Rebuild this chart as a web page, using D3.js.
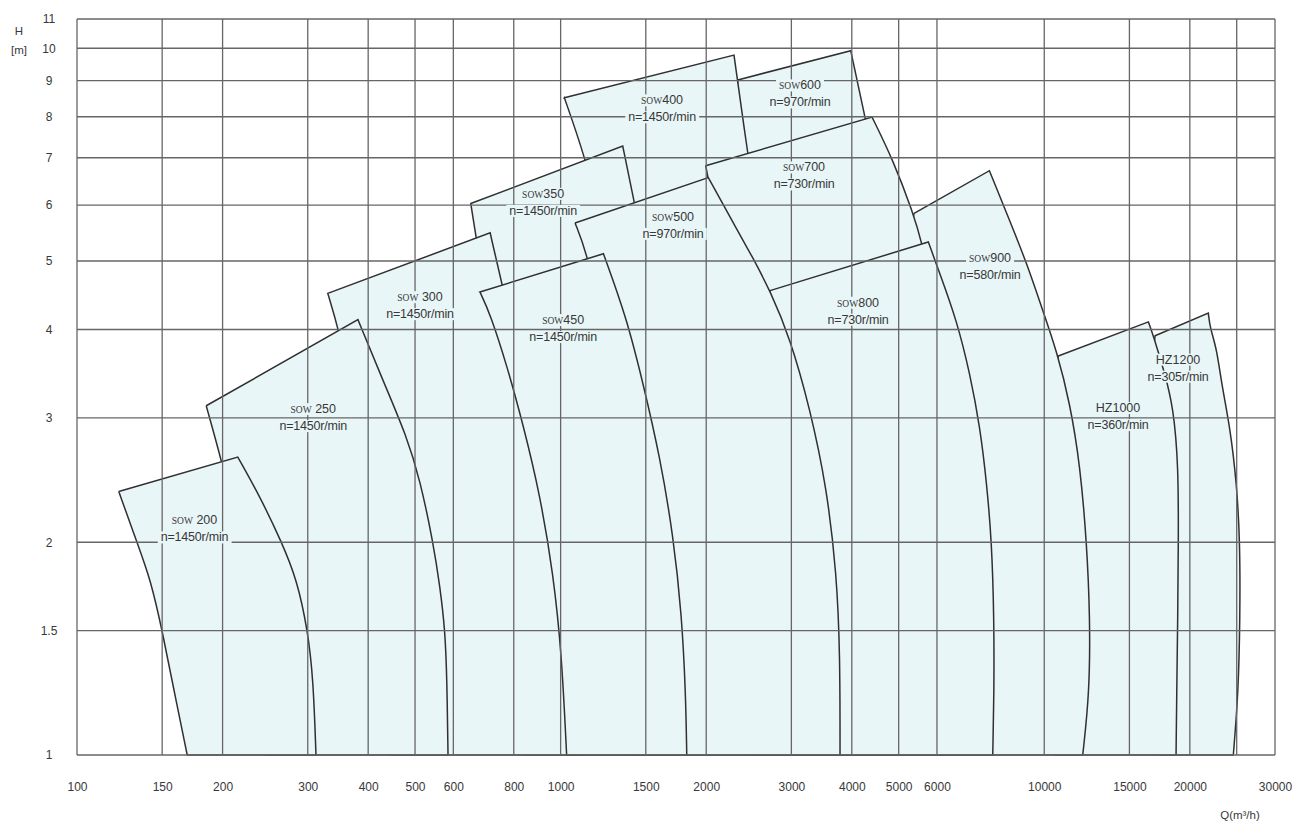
<!DOCTYPE html>
<html><head><meta charset="utf-8">
<script src="https://cdn.jsdelivr.net/npm/d3@7"></script>
<style>
body{margin:0;background:#fff;}
svg{display:block;}
</style>
</head><body>
<svg id="c" width="1316" height="824"></svg>
<script>
// ---------------- DATA ----------------
const xTickLabels = [100,150,200,300,400,500,600,800,1000,1500,2000,3000,4000,5000,6000,10000,15000,20000,30000];
const xGridValues = [100,150,200,300,400,500,600,800,1000,1500,2000,3000,4000,5000,6000,10000,15000,20000,25000,30000];
const yTickLabels = [1,1.5,2,3,4,5,6,7,8,9,10,11];
const yGridValues = [1,1.5,2,3,4,5,6,7,8,9,10,11];

const pumps  = ["SOW 200","SOW 250","SOW 300","SOW350","SOW400","SOW450","SOW500","SOW600","SOW700","SOW800","SOW900","HZ1000","HZ1200"];
const speeds = [1450,1450,1450,1450,1450,1450,970,970,730,730,580,360,305];
const labelQ = [175,308,512,920,1621,1012,1708,3126,3187,4121,7726,14210,18910];
const labelH = [2.15,3.09,4.45,6.23,8.45,4.13,5.78,8.87,6.79,4.37,5.06,3.10,3.63];

// Each envelope: right curve (starting at top-right corner, down to H=1),
// left edge (starting at top-left corner, down to H=1). Values are (Q m3/h, H m).
const sow200Right = [[215,2.64],[239,2.32],[265,2.0],[285,1.77],[300,1.5],[308,1.28],[312,1]];
const sow200Left  = [[122,2.36],[133,2.0],[142,1.77],[150,1.5],[157,1.28],[169,1]];
const sow250Right = [[381,4.13],[429,3.39],[481,2.82],[512,2.45],[545,2.0],[563,1.73],[577,1.5],[582,1.28],[585,1]];
const sow250Left  = [[185,3.12],[199,2.61],[213,2.15],[228,1.66],[239,1.28],[246,1]];
const sow300Right = [[715,5.48],[757,4.61],[817,3.74],[898,2.88],[965,2.15],[1031,1.55],[1066,1.2],[1097,1]];
const sow300Left  = [[330,4.5],[348,3.99],[370,3.28],[394,2.62],[419,1.89],[436,1.36],[444,1]];
const sow350Right = [[1344,7.27],[1420,6.07],[1495,5.02],[1567,3.74],[1621,2.45],[1652,1.55],[1668,1]];
const sow350Left  = [[652,6.03],[668,5.41],[698,4.55],[739,3.39],[779,2.45],[817,1.55],[840,1]];
const sow400Right = [[2283,9.78],[2433,7.14],[2560,5.71],[2684,4.13],[2789,2.7],[2856,1.66],[2897,1]];
const sow400Left  = [[1018,8.51],[1123,7.02],[1195,5.9],[1265,4.4],[1327,2.7],[1365,1.66],[1391,1]];
const sow450Right = [[1226,5.12],[1370,4.15],[1483,3.34],[1605,2.64],[1710,2.04],[1780,1.58],[1814,1.22],[1823,1]];
const sow450Left  = [[681,4.52],[715,4.21],[774,3.56],[837,2.93],[907,2.33],[966,1.8],[1005,1.39],[1029,1]];
const sow500Right = [[2020,6.56],[2240,5.77],[2503,5.04],[2710,4.54],[2982,3.89],[3279,3.09],[3550,2.39],[3723,1.8],[3782,1.39],[3782,1]];
const sow500Left  = [[1071,5.66],[1141,5.07],[1206,4.13],[1296,2.98],[1391,1.95],[1459,1]];
const sow600Right = [[3980,9.92],[4260,7.99],[4533,6.51],[4709,5.02],[4846,3.18],[4938,1]];
const sow600Left  = [[2324,9.02],[2294,7.66],[2350,5.18],[2464,1]];
const sow700Right = [[4405,7.99],[4868,6.95],[5355,5.85],[5589,5.3],[5861,4.55],[6088,3.18],[6235,1]];
const sow700Left  = [[1995,6.82],[2020,6.55],[2136,5.18],[2294,3.74],[2464,2.3],[2584,1]];
const sow800Right = [[5758,5.32],[6088,4.79],[6592,4.12],[7023,3.46],[7365,2.91],[7605,2.42],[7788,2.0],[7874,1.56],[7874,1.22],[7825,1]];
const sow800Left  = [[2710,4.54],[2584,3.74],[2710,2.3],[2842,1]];
const sow900Right = [[7701,6.71],[8364,5.84],[9199,4.97],[9957,4.23],[10610,3.73],[11310,3.14],[11860,2.57],[12240,2.0],[12440,1.56],[12400,1.22],[12010,1]];
const sow900Left  = [[5381,5.84],[5154,5.02],[5536,3.18],[6088,1]];
const hz1000Right = [[16420,4.1],[16810,3.92],[17770,3.46],[18490,3.1],[18940,2.57],[18940,2.0],[18880,1.56],[18790,1.22],[18730,1]];
const hz1000Left  = [[10690,3.67],[10040,2.98],[10280,1.95],[10530,1]];
const hz1200Right = [[21840,4.22],[22020,4.02],[22730,3.76],[23280,3.34],[24220,2.91],[25000,2.42],[25400,2.0],[25400,1.56],[25190,1.22],[24600,1]];
const hz1200Left  = [[16950,3.92],[16550,3.39],[16950,2.3],[17350,1]];

const envelopes = {
  "SOW 200":[sow200Right,sow200Left], "SOW 250":[sow250Right,sow250Left], "SOW 300":[sow300Right,sow300Left],
  "SOW350":[sow350Right,sow350Left], "SOW400":[sow400Right,sow400Left], "SOW450":[sow450Right,sow450Left],
  "SOW500":[sow500Right,sow500Left], "SOW600":[sow600Right,sow600Left], "SOW700":[sow700Right,sow700Left],
  "SOW800":[sow800Right,sow800Left], "SOW900":[sow900Right,sow900Left], "HZ1000":[hz1000Right,hz1000Left],
  "HZ1200":[hz1200Right,hz1200Left]
};
// back -> front
const drawOrder = ["HZ1200","HZ1000","SOW900","SOW600","SOW400","SOW700","SOW800","SOW350","SOW500","SOW 300","SOW450","SOW 250","SOW 200"];

// ---------------- CHART ----------------
const FILL = "#e9f6f7";
const GRID = "#666666";
const EDGE = "#303030";
const TXT  = "#383838";

const svg = d3.select("#c");
const x = d3.scaleLog().domain([100, 30000]).range([77, 1275]);
const y = d3.scaleLog().domain([1, 11]).range([755, 19]);

const lineGen = d3.line().x(d => x(d[0])).y(d => y(d[1])).curve(d3.curveBasis);
function envelopePath(right, left) {
  const r = lineGen(right);
  const l = lineGen(left.slice().reverse());
  return `M${x(left[0][0])},${y(left[0][1])}L${r.slice(1)}L${l.slice(1)}Z`;
}

// regions
svg.append("g").selectAll("path")
  .data(drawOrder)
  .join("path")
  .attr("d", name => envelopePath(envelopes[name][0], envelopes[name][1]))
  .attr("fill", FILL)
  .attr("stroke", EDGE)
  .attr("stroke-width", 1.5)
  .attr("stroke-linejoin", "miter");

// grid
const grid = svg.append("g").attr("stroke", GRID).attr("stroke-width", 1.3);
grid.selectAll("line.v").data(xGridValues).join("line").attr("class","v")
  .attr("x1", d => x(d)).attr("x2", d => x(d)).attr("y1", y(1)).attr("y2", y(11));
grid.selectAll("line.h").data(yGridValues).join("line").attr("class","h")
  .attr("y1", d => y(d)).attr("y2", d => y(d)).attr("x1", x(100)).attr("x2", x(30000));

// labels
const labels = svg.append("g");
pumps.forEach((name, i) => {
  const cx = x(labelQ[i]), cy = y(labelH[i]);
  const g = labels.append("g");
  const t1 = g.append("text").attr("x", cx).attr("y", cy).attr("dy", "0.35em")
    .attr("text-anchor", "middle").attr("fill", TXT)
    .style("font-family", "'Liberation Sans', Arial, sans-serif").style("font-size", "12.5px");
  if (name.startsWith("SOW")) {
    t1.append("tspan").text("SOW").style("font-family", "'Liberation Serif', serif").style("font-size", "9.5px");
    t1.append("tspan").text(name.slice(3));
  } else {
    t1.text(name);
  }
  const t2 = g.append("text").attr("x", cx).attr("y", cy + 17).attr("dy", "0.35em")
    .attr("text-anchor", "middle").attr("fill", TXT)
    .style("font-family", "'Liberation Sans', Arial, sans-serif").style("font-size", "12.5px")
    .style("letter-spacing", "-0.2px")
    .text(`n=${speeds[i]}r/min`);
  [t1, t2].forEach(t => {
    const b = t.node().getBBox();
    g.insert("rect", "text").attr("x", b.x - 3).attr("y", b.y + 1).attr("width", b.width + 6).attr("height", b.height - 2)
      .attr("fill", FILL);
  });
});

// axes
const xAxis = svg.append("g").attr("transform", `translate(0,${y(1)})`)
  .call(d3.axisBottom(x).tickValues(xTickLabels).tickFormat(d => String(d)).tickSize(0).tickPadding(27));
xAxis.select(".domain").remove();
xAxis.selectAll("text").attr("fill", TXT).style("font-family", "'Liberation Sans', Arial, sans-serif").style("font-size", "12px");

const yAxis = svg.append("g").attr("transform", `translate(${x(100)},0)`)
  .call(d3.axisLeft(y).tickValues(yTickLabels).tickFormat(d => String(d)).tickSize(0));
yAxis.select(".domain").remove();
yAxis.selectAll("text").attr("x", -28).attr("text-anchor", "middle").attr("fill", TXT)
  .style("font-family", "'Liberation Sans', Arial, sans-serif").style("font-size", "12px");

// axis titles
const ttl = svg.append("g").attr("fill", TXT).style("font-family", "'Liberation Sans', Arial, sans-serif").style("font-size", "11.5px").attr("text-anchor", "middle");
ttl.append("text").attr("x", 19).attr("y", 31).attr("dy", "0.35em").text("H");
ttl.append("text").attr("x", 19).attr("y", 50).attr("dy", "0.35em").text("[m]");
ttl.append("text").attr("x", 1240).attr("y", 815).attr("dy", "0.35em").text("Q(m³/h)");
</script>
</body></html>
